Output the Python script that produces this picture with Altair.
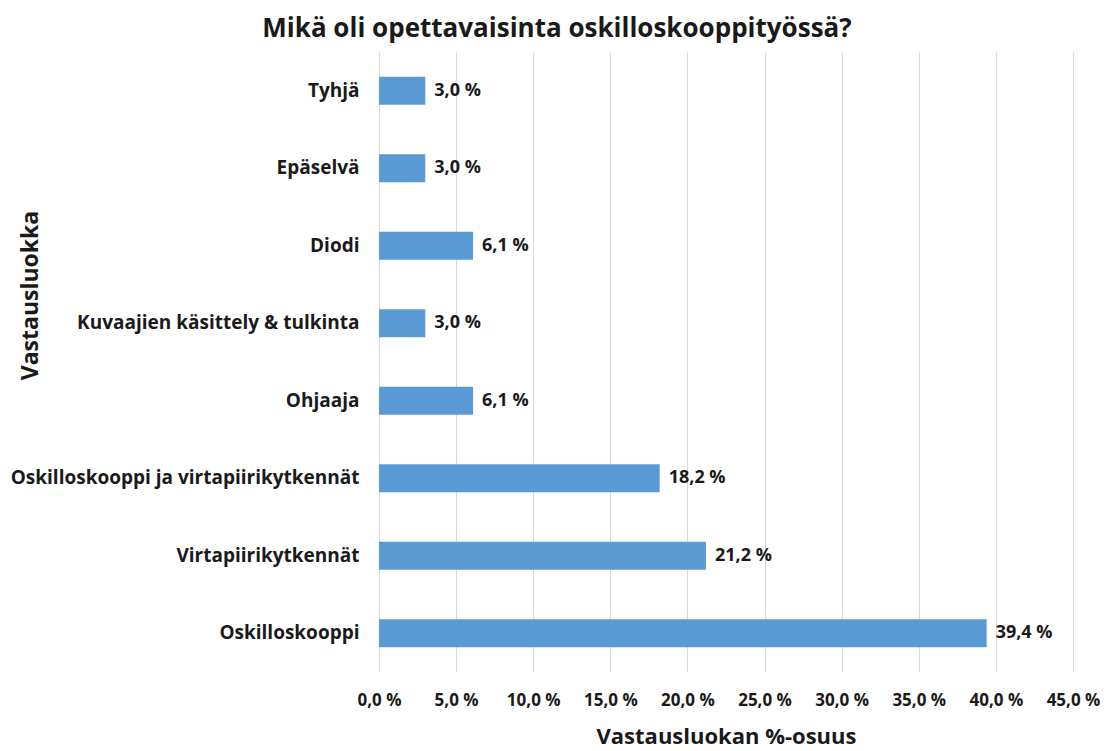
import altair as alt
import pandas as pd

categories = ["Tyhjä", "Epäselvä", "Diodi", "Kuvaajien käsittely & tulkinta",
              "Ohjaaja", "Oskilloskooppi ja virtapiirikytkennät",
              "Virtapiirikytkennät", "Oskilloskooppi"]
values = [3.0, 3.0, 6.1, 3.0, 6.1, 18.2, 21.2, 39.4]
labels = ["3,0 %", "3,0 %", "6,1 %", "3,0 %", "6,1 %", "18,2 %", "21,2 %", "39,4 %"]
x_ticks = [0, 5, 10, 15, 20, 25, 30, 35, 40, 45]

df = pd.DataFrame({"cat": categories, "val": values, "lab": labels})

FONT = "Open Sans"
TXT = "#1a1a1a"

x_enc = alt.X("val:Q",
              scale=alt.Scale(domain=[0, 45], nice=False),
              axis=alt.Axis(values=x_ticks, grid=True, gridColor="#D9D9D9",
                            ticks=False, domain=False, labelPadding=20,
                            labelFlush=False, labelOverlap=False,
                            labelFont=FONT, labelFontSize=17, labelFontWeight="bold",
                            labelColor=TXT,
                            labelExpr="replace(format(datum.value, '.1f'), '.', ',') + ' %'",
                            title="Vastausluokan %-osuus", titleFont=FONT,
                            titleFontSize=22, titleFontWeight="bold", titleColor=TXT,
                            titleY=64, titleBaseline="middle"))
y_enc = alt.Y("cat:N", sort=categories,
              scale=alt.Scale(paddingInner=0.64, paddingOuter=0.32),
              axis=alt.Axis(ticks=False, domain=False, labelPadding=20,
                            labelFont=FONT, labelFontSize=19, labelFontWeight="bold",
                            labelColor=TXT, labelLimit=500,
                            title="Vastausluokka", titleFont=FONT, titleFontSize=23,
                            titleFontWeight="bold", titleColor=TXT,
                            titleX=-349, titleY=243, titleAngle=270,
                            titleAlign="center", titleBaseline="middle"))

bars = alt.Chart(df).mark_bar(color="#5B9BD5").encode(x=x_enc, y=y_enc)
texts = alt.Chart(df).mark_text(align="left", baseline="middle", dx=9,
                                font=FONT, fontSize=18, fontWeight="bold",
                                color=TXT).encode(
    x=alt.X("val:Q"), y=alt.Y("cat:N", sort=categories), text="lab:N")

chart = alt.layer(bars, texts).properties(
    width=694, height=620,
    autosize=alt.AutoSizeParams(type="none"),
    padding={"left": 371, "top": 44, "right": 30, "bottom": 78},
    background="white",
    title=alt.TitleParams("Mikä oli opettavaisinta oskilloskooppityössä?",
                          font=FONT, fontSize=26, fontWeight="bold", color=TXT,
                          anchor="middle", dx=-169, offset=10),
).configure_view(stroke=None)

chart.save("out.html", embed_options={"renderer": "svg", "actions": False})
